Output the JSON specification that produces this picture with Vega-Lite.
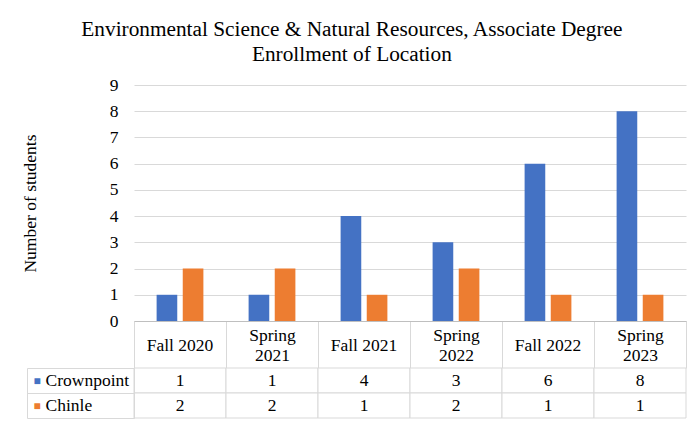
{
  "$schema": "https://vega.github.io/schema/vega-lite/v6.json",
  "padding": {"left": 21, "top": 18, "right": 6, "bottom": 2},
  "bounds": "flush",
  "spacing": 47,
  "background": "white",
  "title": {
    "text": ["Environmental Science & Natural Resources, Associate Degree", "Enrollment of Location"],
    "font": "Liberation Serif",
    "fontSize": 21.3,
    "fontWeight": "normal",
    "color": "#000000",
    "anchor": "middle",
    "dx": -2,
    "lineHeight": 25,
    "offset": 11
  },
  "config": {
    "font": "Liberation Serif",
    "view": {"stroke": null},
    "style": {"guide-label": {"font": "Liberation Serif"}, "guide-title": {"font": "Liberation Serif"}},
    "axis": {"labelFont": "Liberation Serif", "titleFont": "Liberation Serif", "labelColor": "#000000", "titleColor": "#000000"}
  },
  "datasets": {
    "enroll": [
      {"term": "Fall 2020", "location": "Crownpoint", "students": 1},
      {"term": "Fall 2020", "location": "Chinle", "students": 2},
      {"term": "Spring 2021", "location": "Crownpoint", "students": 1},
      {"term": "Spring 2021", "location": "Chinle", "students": 2},
      {"term": "Fall 2021", "location": "Crownpoint", "students": 4},
      {"term": "Fall 2021", "location": "Chinle", "students": 1},
      {"term": "Spring 2022", "location": "Crownpoint", "students": 3},
      {"term": "Spring 2022", "location": "Chinle", "students": 2},
      {"term": "Fall 2022", "location": "Crownpoint", "students": 6},
      {"term": "Fall 2022", "location": "Chinle", "students": 1},
      {"term": "Spring 2023", "location": "Crownpoint", "students": 8},
      {"term": "Spring 2023", "location": "Chinle", "students": 1}
    ]
  },
  "vconcat": [
    {
      "width": 552,
      "height": 236,
      "data": {"name": "enroll"},
      "encoding": {
        "xOffset": {
          "field": "location", "type": "nominal", "sort": ["Crownpoint", "Chinle"],
          "scale": {"paddingInner": 0.21, "paddingOuter": 0.865}
        },
        "y": {
          "field": "students", "type": "quantitative",
          "scale": {"domain": [0, 9]},
          "axis": {
            "title": "Number of students", "titleFontSize": 17.5, "titleFontWeight": "normal",
            "titleFont": "Liberation Serif", "titlePadding": 70,
            "values": [0, 1, 2, 3, 4, 5, 6, 7, 8, 9],
            "domain": false, "ticks": false, "labelPadding": 16,
            "labelFont": "Liberation Serif", "labelExpr": "datum.label",
            "labelFontSize": 17.5, "gridColor": "#d9d9d9"
          }
        },
        "color": {
          "field": "location", "type": "nominal",
          "scale": {"domain": ["Crownpoint", "Chinle"], "range": ["#4472C4", "#ED7D31"]},
          "legend": null
        }
      },
      "layer": [
        {
          "mark": {"type": "bar"},
          "encoding": {
            "x": {
              "field": "term", "type": "nominal", "sort": null,
              "scale": {"paddingInner": 0, "paddingOuter": 0},
              "axis": {
                "title": null, "orient": "bottom", "labelAngle": 0, "grid": false,
                "tickBand": "extent", "tickSize": 47, "tickColor": "#d9d9d9",
                "domainColor": "#bfbfbf",
                "labelPadding": -33, "labelBaseline": "middle",
                "labelFont": "Liberation Serif", "labelFontSize": 17.5, "labelLineHeight": 20,
                "labelExpr": "indexof(datum.label, 'Spring') == 0 ? split(datum.label, ' ') : ''"
              }
            }
          }
        },
        {
          "mark": {"type": "bar", "opacity": 0},
          "encoding": {
            "x": {
              "field": "term", "type": "nominal", "sort": null,
              "scale": {"paddingInner": 0, "paddingOuter": 0},
              "axis": {
                "title": null, "orient": "bottom", "labelAngle": 0, "grid": false, "domain": false, "ticks": false,
                "labelPadding": 24, "labelBaseline": "middle",
                "labelFont": "Liberation Serif", "labelFontSize": 17.5,
                "labelExpr": "indexof(datum.label, 'Fall') == 0 ? datum.label : ''"
              }
            }
          }
        }
      ],
      "resolve": {"axis": {"x": "independent"}}
    },
    {
      "width": 552,
      "height": 50,
      "data": {"name": "enroll"},
      "layer": [
        {
          "mark": {"type": "rect", "fill": "white", "stroke": "#d9d9d9", "strokeWidth": 1},
          "encoding": {
            "x": {"field": "term", "type": "nominal", "sort": null, "scale": {"paddingInner": 0, "paddingOuter": 0}, "axis": null},
            "y": {
              "field": "location", "type": "nominal", "sort": ["Crownpoint", "Chinle"],
              "scale": {"paddingInner": 0, "paddingOuter": 0},
              "axis": {
                "title": null, "orient": "left", "domain": true, "domainColor": "#d9d9d9",
                "ticks": true, "tickBand": "extent", "tickSize": 107, "tickColor": "#d9d9d9",
                "labelAlign": "left", "labelBaseline": "middle", "labelPadding": -18,
                "labelFont": "Liberation Serif", "labelFontSize": 17.5, "labelExpr": "datum.label"
              }
            }
          }
        },
        {
          "mark": {"type": "text", "fontSize": 17.5, "font": "Liberation Serif", "color": "#000000"},
          "encoding": {
            "x": {"field": "term", "type": "nominal", "sort": null, "scale": {"paddingInner": 0, "paddingOuter": 0}, "axis": null},
            "y": {
              "field": "location", "type": "nominal", "sort": ["Crownpoint", "Chinle"],
              "scale": {"paddingInner": 0, "paddingOuter": 0},
              "axis": {
                "title": null, "orient": "left", "offset": 107, "domain": true, "domainColor": "#d9d9d9",
                "ticks": false, "labelAlign": "left", "labelBaseline": "middle", "labelPadding": -6,
                "labelExpr": "'■'", "labelFont": "Liberation Serif", "labelFontSize": 12,
                "labelColor": {"condition": {"test": "datum.value === 'Crownpoint'", "value": "#4472C4"}, "value": "#ED7D31"}
              }
            },
            "text": {"field": "students", "type": "quantitative"}
          }
        }
      ],
      "resolve": {"axis": {"y": "independent"}}
    }
  ]
}
